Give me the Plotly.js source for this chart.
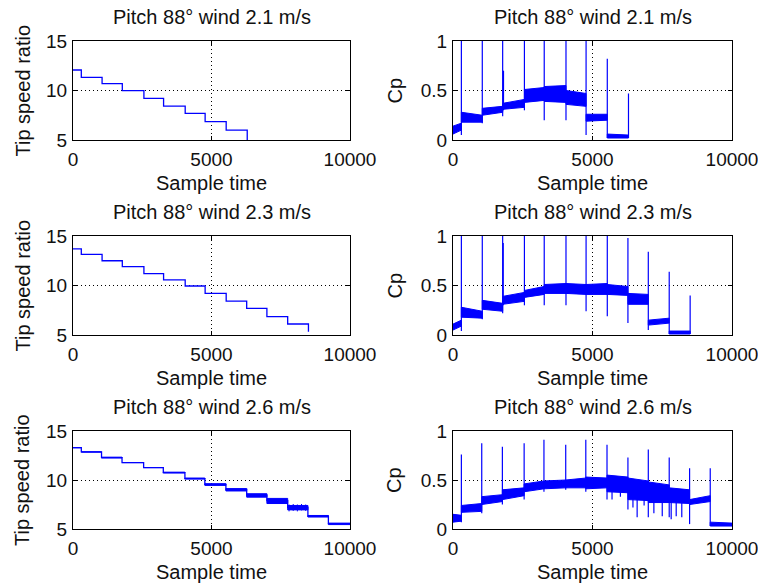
<!DOCTYPE html>
<html><head><meta charset="utf-8">
<script src="https://cdn.plot.ly/plotly-3.0.1.min.js"></script>
<style>html,body{margin:0;padding:0;background:#fff}#chart{width:758px;height:586px}</style>
</head><body><div id="chart"></div>
<script>
// ---------- ticks & labels ----------
const xTickVals = [0, 5000, 10000];
const tsrTickVals = [5, 10, 15];
const cpTickVals = [0, 0.5, 1];
const panelTitles = ['Pitch 88° wind 2.1 m/s', 'Pitch 88° wind 2.3 m/s', 'Pitch 88° wind 2.6 m/s'];
const xLabel = 'Sample time';
const tsrLabel = 'Tip speed ratio';
const cpLabel = 'Cp';

// ---------- wind 2.1 m/s ----------
const segEnd21 = [300, 1050, 1780, 2560, 3270, 4050, 4770, 5530, 6290];
const tsr21 = [12.07, 11.33, 10.69, 9.98, 9.2, 8.43, 7.69, 6.85, 6.0];
const tsr21Final = 4.9;
const cp21LoA = [0.06, 0.18, 0.25, 0.31, 0.38, 0.39, 0.36, 0.19, 0.02];
const cp21LoB = [0.10, 0.18, 0.28, 0.33, 0.40, 0.38, 0.34, 0.20, 0.02];
const cp21HiA = [0.14, 0.28, 0.32, 0.37, 0.51, 0.54, 0.50, 0.26, 0.06];
const cp21HiB = [0.17, 0.25, 0.34, 0.41, 0.53, 0.55, 0.47, 0.26, 0.05];
const cp21SpikeX = [300, 1050, 1780, 1810, 2560, 3270, 4050, 4770, 5530, 6290];
const cp21SpikeLo = [0.05, 0.17, 0.24, 0.30, 0.30, 0.20, 0.20, 0.05, 0.02, 0.02];
const cp21SpikeHi = [1.0, 1.0, 1.0, 0.70, 1.0, 1.0, 1.0, 1.0, 0.82, 0.47];

// ---------- wind 2.3 m/s ----------
const segEnd23 = [300, 1050, 1780, 2560, 3270, 4050, 4770, 5530, 6270, 7000, 7750, 8500];
const tsr23 = [13.69, 13.15, 12.5, 11.9, 11.2, 10.56, 9.95, 9.2, 8.43, 7.69, 6.85, 6.11];
const tsr23Final = 5.33;
const cp23LoA = [0.05, 0.18, 0.26, 0.31, 0.38, 0.42, 0.42, 0.41, 0.41, 0.31, 0.10, 0.01];
const cp23LoB = [0.09, 0.17, 0.24, 0.34, 0.41, 0.42, 0.41, 0.41, 0.40, 0.31, 0.12, 0.01];
const cp23HiA = [0.11, 0.28, 0.35, 0.39, 0.45, 0.51, 0.52, 0.51, 0.51, 0.42, 0.15, 0.04];
const cp23HiB = [0.15, 0.24, 0.32, 0.43, 0.49, 0.52, 0.51, 0.52, 0.49, 0.41, 0.17, 0.04];
const cp23SpikeX = [300, 1050, 1780, 1800, 2560, 3270, 4050, 4770, 5530, 6270, 7000, 7750, 8500];
const cp23SpikeLo = [0.04, 0.16, 0.22, 0.30, 0.30, 0.30, 0.30, 0.24, 0.19, 0.12, 0.05, 0.01, 0.01];
const cp23SpikeHi = [1.0, 1.0, 1.0, 0.93, 1.0, 1.0, 1.0, 1.0, 1.0, 0.98, 0.84, 0.64, 0.40];

// ---------- wind 2.6 m/s ----------
const segEnd26 = [300, 1030, 1770, 2550, 3260, 4040, 4760, 5520, 6270, 7000, 7750, 8480, 9220, 10000];
const tsr26 = [13.3, 12.86, 12.29, 11.78, 11.27, 10.76, 10.15, 9.55, 9.03, 8.45, 7.9, 7.2, 6.32, 5.55];
const tsr26Lo = [13.3, 12.86, 12.25, 11.78, 11.27, 10.72, 10.1, 9.45, 8.88, 8.25, 7.6, 6.95, 6.22, 5.45];
const tsr26Hi = [13.3, 12.86, 12.33, 11.85, 11.27, 10.8, 10.2, 9.62, 9.12, 8.6, 8.12, 7.4, 6.38, 5.6];
const tsr26SpikeX = [7800, 7950, 8100, 8250, 8400];
const tsr26SpikeLo = [6.8, 6.85, 6.8, 6.9, 6.85];
const tsr26SpikeHi = [7.5, 7.55, 7.5, 7.55, 7.5];
const cp26LoA = [0.07, 0.17, 0.25, 0.30, 0.38, 0.41, 0.42, 0.41, 0.38, 0.30, 0.27, 0.27, 0.25, 0.03];
const cp26LoB = [0.08, 0.18, 0.28, 0.34, 0.41, 0.42, 0.42, 0.42, 0.37, 0.29, 0.27, 0.26, 0.28, 0.03];
const cp26HiA = [0.15, 0.24, 0.33, 0.40, 0.46, 0.49, 0.50, 0.53, 0.55, 0.52, 0.48, 0.42, 0.30, 0.07];
const cp26HiB = [0.14, 0.26, 0.35, 0.42, 0.49, 0.50, 0.52, 0.52, 0.53, 0.49, 0.45, 0.40, 0.34, 0.06];
const cp26SpikeX = [300, 1030, 1770, 2550, 3260, 4040, 4760, 5520, 5700, 6000, 6270, 6450, 6600, 6850,
                    7000, 7200, 7500, 7750, 7820, 8000, 8200, 8480, 9220];
const cp26SpikeLo = [0.07, 0.16, 0.25, 0.30, 0.38, 0.40, 0.38, 0.30, 0.30, 0.33, 0.20, 0.22, 0.12, 0.24,
                     0.12, 0.16, 0.13, 0.12, 0.10, 0.13, 0.12, 0.05, 0.03];
const cp26SpikeHi = [0.76, 0.875, 0.84, 0.875, 0.91, 0.86, 0.91, 0.86, 0.52, 0.52, 0.73, 0.48, 0.46, 0.48,
                     0.81, 0.44, 0.42, 0.73, 0.40, 0.38, 0.40, 0.62, 0.62];

// ---------- builders ----------
const BLUE = '#0000ff';
function stepLine(ends, levels, finalY) {
  const x = [], y = [];
  let s = 0;
  for (let i = 0; i < levels.length; i++) {
    x.push(s, ends[i]); y.push(levels[i], levels[i]); s = ends[i];
  }
  if (finalY !== undefined) { x.push(s); y.push(finalY); }
  return {x, y};
}
function bandPoly(ends, loA, loB, hiA, hiB) {
  const x = [], y = [];
  let s = 0;
  for (let i = 0; i < ends.length; i++) {
    const e = ends[i];
    x.push(s, e, e, s, s, null);
    y.push(loA[i], loB[i], hiB[i], hiA[i], loA[i], null);
    s = e;
  }
  return {x, y};
}
function spikeLines(xs, lo, hi) {
  const x = [], y = [];
  for (let i = 0; i < xs.length; i++) { x.push(xs[i], xs[i], null); y.push(lo[i], hi[i], null); }
  return {x, y};
}

const traces = [];
function addLine(d, ax, w) {
  traces.push({type: 'scatter', mode: 'lines', x: d.x, y: d.y, xaxis: 'x' + ax, yaxis: 'y' + ax,
    line: {color: BLUE, width: w}, hoverinfo: 'skip', showlegend: false});
}
function addBand(d, ax) {
  traces.push({type: 'scatter', mode: 'lines', x: d.x, y: d.y, xaxis: 'x' + ax, yaxis: 'y' + ax,
    fill: 'toself', fillcolor: BLUE, line: {color: BLUE, width: 1}, connectgaps: false,
    hoverinfo: 'skip', showlegend: false});
}

// panel 1,2 : 2.1
addLine(stepLine(segEnd21, tsr21, tsr21Final), '', 1.3);
addBand(bandPoly(segEnd21, cp21LoA, cp21LoB, cp21HiA, cp21HiB), '2');
addLine(spikeLines(cp21SpikeX, cp21SpikeLo, cp21SpikeHi), '2', 1.2);
// panel 3,4 : 2.3
addLine(stepLine(segEnd23, tsr23, tsr23Final), '3', 1.3);
addBand(bandPoly(segEnd23, cp23LoA, cp23LoB, cp23HiA, cp23HiB), '4');
addLine(spikeLines(cp23SpikeX, cp23SpikeLo, cp23SpikeHi), '4', 1.2);
// panel 5,6 : 2.6
addBand(bandPoly(segEnd26, tsr26Lo, tsr26Lo, tsr26Hi, tsr26Hi), '5');
addLine(stepLine(segEnd26, tsr26), '5', 1.3);
addLine(spikeLines(tsr26SpikeX, tsr26SpikeLo, tsr26SpikeHi), '5', 1);
addBand(bandPoly(segEnd26, cp26LoA, cp26LoB, cp26HiA, cp26HiB), '6');
addLine(spikeLines(cp26SpikeX, cp26SpikeLo, cp26SpikeHi), '6', 1.2);

// ---------- layout ----------
const W = 758, H = 586;
const FONT = 'Liberation Sans, Arial, sans-serif';
const TXT = '#111';
const colPx = [[73, 350], [453, 732]];
const rowPx = [[41, 140], [236, 335], [431, 529]];
const fx = p => p / W, fy = p => (H - p) / H;

const layout = {
  width: W, height: H, margin: {l: 0, r: 0, t: 0, b: 0},
  paper_bgcolor: '#fff', plot_bgcolor: '#fff', showlegend: false,
  font: {family: FONT, size: 19, color: TXT},
  annotations: []
};
function axisCommon() {
  return {showline: true, linecolor: '#000', linewidth: 1, mirror: 'ticks', ticks: 'inside',
    ticklen: 4, tickcolor: '#000', showgrid: true, gridcolor: '#000', griddash: '1px,3px', gridwidth: 1,
    zeroline: false, fixedrange: true, ticklabeloverflow: 'allow',
    tickfont: {family: FONT, size: 19, color: TXT}};
}
for (let r = 0; r < 3; r++) {
  for (let c = 0; c < 2; c++) {
    const n = r * 2 + c + 1;
    const key = n === 1 ? '' : String(n);
    const xa = axisCommon(), ya = axisCommon();
    xa.domain = [fx(colPx[c][0]), fx(colPx[c][1])];
    xa.range = [0, 10000]; xa.tickvals = xTickVals; xa.tickformat = 'd';
    xa.anchor = 'y' + key; xa.ticklabelstandoff = 2;
    ya.domain = [fy(rowPx[r][1]), fy(rowPx[r][0])];
    ya.anchor = 'x' + key; ya.ticklabelstandoff = 1;
    if (c === 0) { ya.range = [5, 15]; ya.tickvals = tsrTickVals; }
    else { ya.range = [0, 1]; ya.tickvals = cpTickVals; }
    layout['xaxis' + key] = xa; layout['yaxis' + key] = ya;

    const cx = fx((colPx[c][0] + colPx[c][1]) / 2);
    layout.annotations.push({text: panelTitles[r], xref: 'paper', yref: 'paper', x: cx,
      y: fy(rowPx[r][0] - 24), xanchor: 'center', yanchor: 'middle', showarrow: false,
      font: {family: FONT, size: 20, color: TXT}});
    layout.annotations.push({text: xLabel, xref: 'paper', yref: 'paper', x: cx,
      y: fy(rowPx[r][1] + 43), xanchor: 'center', yanchor: 'middle', showarrow: false,
      font: {family: FONT, size: 20, color: TXT}});
    layout.annotations.push({text: c === 0 ? tsrLabel : cpLabel, xref: 'paper', yref: 'paper',
      x: fx(c === 0 ? 22 : 394), y: fy((rowPx[r][0] + rowPx[r][1]) / 2), textangle: -90,
      xanchor: 'center', yanchor: 'middle', showarrow: false,
      font: {family: FONT, size: 20, color: TXT}});
  }
}
Plotly.newPlot('chart', traces, layout, {staticPlot: true, displayModeBar: false});
</script>
</body></html>
